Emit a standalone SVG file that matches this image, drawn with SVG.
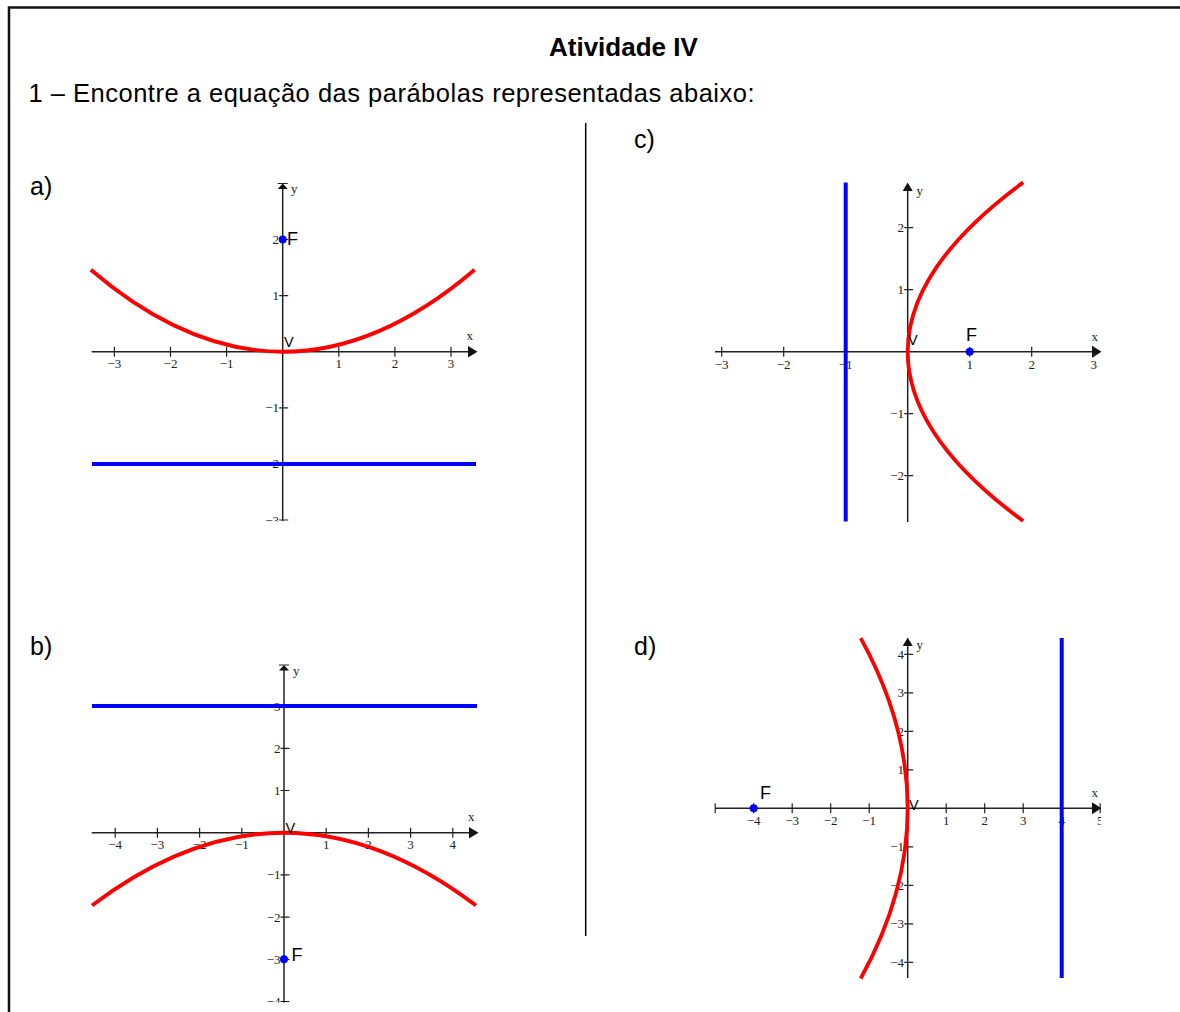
<svg xmlns="http://www.w3.org/2000/svg" width="1180" height="1012" viewBox="0 0 1180 1012">
<style>
.ax{stroke:#222;stroke-width:1.5;fill:none}
.tk{stroke:#222;stroke-width:1.2;fill:none}
.arr{fill:#111;stroke:none}
.par{stroke:#ff0000;stroke-width:3.8;fill:none}
.dir{stroke:#0000ff;stroke-width:4;fill:none}
.num{font-family:"Liberation Serif","Times New Roman",serif;font-size:13px;fill:#222}
.nx{text-anchor:middle}
.ny{text-anchor:end}
.lab{font-family:"Liberation Sans",Arial,sans-serif;fill:#000}
.F{font-size:18px}
.V{font-size:14.5px}
.dot{fill:#0000ff}
</style>
<defs>
<clipPath id="ca"><rect x="80" y="170" width="420" height="351.5"/></clipPath>
<clipPath id="cb"><rect x="80" y="650" width="420" height="352.5"/></clipPath>
<clipPath id="cd"><rect x="700" y="625" width="401" height="370"/></clipPath>
</defs>
<rect x="0" y="0" width="1180" height="1012" fill="#fff"/>
<g id="frame">
<path d="M9,1013 V7.5 H1181" fill="none" stroke="#111" stroke-width="2.5"/>
<path d="M585.7,123 V936" fill="none" stroke="#000" stroke-width="1.5"/>
</g>
<g id="texts" class="lab">
<text id="title" x="549" y="56" font-size="26" font-weight="bold">Atividade IV</text>
<text id="q1" x="28.5" y="102" font-size="25.5" textLength="726" lengthAdjust="spacing">1 – Encontre a equação das parábolas representadas abaixo:</text>
<text x="30" y="195" font-size="25">a)</text>
<text x="30" y="655" font-size="25">b)</text>
<text x="634" y="148" font-size="25">c)</text>
<text x="634" y="655" font-size="25">d)</text>
</g>

<g id="graph-a" clip-path="url(#ca)">
<path class="ax" d="M91.7,351.7 H470 M282.7,521 V186"/>
<polygon class="arr" points="468,346 477.5,351.7 468,357.5"/>
<polygon class="arr" points="277.7,189 287.7,189 282.7,183.5"/>
<path class="tk" d="M277.7,183.5 h10"/>
<path class="tk" d="M114.4,346.7v10 M170.5,346.7v10 M226.6,346.7v10 M338.8,346.7v10 M394.9,346.7v10 M451,346.7v10 M279.2,239.5h9 M279.2,295.6h9 M279.2,407.8h9 M279.2,463.9h9 M279.2,520h9"/>
<g class="num nx">
<text x="114.4" y="368">−3</text><text x="170.5" y="368">−2</text><text x="226.6" y="368">−1</text>
<text x="338.8" y="368">1</text><text x="394.9" y="368">2</text><text x="451" y="368">3</text>
</g>
<g class="num ny">
<text x="279" y="244">2</text><text x="279" y="300.1">1</text><text x="279" y="412.3">−1</text><text x="279" y="468.4">−2</text><text x="279" y="524.5">−3</text>
</g>
<text class="num" x="466.5" y="340">x</text>
<text class="num" x="291" y="193">y</text>
<path class="dir" d="M92,463.9 H476"/>
<path class="par" d="M90.8,269.7 Q282.7,433.7 474.6,269.7"/>
<circle class="dot" cx="282.7" cy="239.5" r="4"/>
<text class="lab F" x="287" y="245">F</text>
<text class="lab V" x="284" y="346.7">V</text>
</g>

<g id="graph-b" clip-path="url(#cb)">
<path class="ax" d="M91.7,832.7 H470 M284,1003 V668"/>
<polygon class="arr" points="469,827 478.5,832.7 469,838.5"/>
<polygon class="arr" points="279,670.5 289,670.5 284,665"/>
<path class="tk" d="M279,665 h10"/>
<path class="tk" d="M115.2,827.7v10 M157.4,827.7v10 M199.6,827.7v10 M241.8,827.7v10 M326.2,827.7v10 M368.4,827.7v10 M410.6,827.7v10 M452.8,827.7v10 M280.5,706.1h9 M280.5,748.3h9 M280.5,790.5h9 M280.5,874.9h9 M280.5,917.1h9 M280.5,959.3h9 M280.5,1001.5h9"/>
<g class="num nx">
<text x="115.2" y="848.5">−4</text><text x="157.4" y="848.5">−3</text><text x="199.6" y="848.5">−2</text><text x="241.8" y="848.5">−1</text>
<text x="326.2" y="848.5">1</text><text x="368.4" y="848.5">2</text><text x="410.6" y="848.5">3</text><text x="452.8" y="848.5">4</text>
</g>
<g class="num ny">
<text x="280.5" y="710.6">3</text><text x="280.5" y="752.8">2</text><text x="280.5" y="795">1</text><text x="280.5" y="879.4">−1</text><text x="280.5" y="921.6">−2</text><text x="280.5" y="963.8">−3</text><text x="280.5" y="1006">−4</text>
</g>
<text class="num" x="468" y="821">x</text>
<text class="num" x="293" y="675">y</text>
<path class="dir" d="M92,706.1 H477"/>
<path class="par" d="M92,905.5 Q284,759.9 476,905.5"/>
<circle class="dot" cx="284" cy="959.3" r="4"/>
<text class="lab F" x="291.5" y="961">F</text>
<text class="lab V" x="285.5" y="832.5">V</text>
</g>

<g id="graph-c">
<path class="ax" d="M715,351.7 H1092 M907.7,522 V188"/>
<polygon class="arr" points="1092,345.7 1101.5,351.7 1092,357.7"/>
<polygon class="arr" points="902.7,191 912.7,191 907.7,182.5"/>
<path class="tk" d="M721.7,346.7v10 M783.7,346.7v10 M845.7,346.7v10 M969.7,346.7v10 M1031.7,346.7v10 M1093.7,346.7v10 M904.2,227.7h9 M904.2,289.7h9 M904.2,413.7h9 M904.2,475.7h9"/>
<g class="num nx">
<text x="721.7" y="369">−3</text><text x="783.7" y="369">−2</text><text x="845.7" y="369">−1</text>
<text x="969.7" y="369">1</text><text x="1031.7" y="369">2</text><text x="1093.7" y="369">3</text>
</g>
<g class="num ny">
<text x="904" y="232.2">2</text><text x="904" y="294.2">1</text><text x="904" y="418.2">−1</text><text x="904" y="480.2">−2</text>
</g>
<text class="num" x="1091.5" y="340.5">x</text>
<text class="num" x="916.5" y="195">y</text>
<path class="dir" d="M845.7,182.5 V521.5"/>
<path class="par" d="M1023.2,182.4 Q792.2,351.7 1023.2,521"/>
<circle class="dot" cx="969.7" cy="351.7" r="4"/>
<text class="lab F" x="966" y="340.7">F</text>
<text class="lab V" x="908" y="345">V</text>
</g>

<g id="graph-d" clip-path="url(#cd)">
<path class="ax" d="M715.2,808.3 H1093 M907.7,978 V644"/>
<polygon class="arr" points="1092,802.3 1101.5,808.3 1092,814.3"/>
<polygon class="arr" points="902.7,646 912.7,646 907.7,637.5"/>
<path class="tk" d="M715.2,803.3v10 M753.7,803.3v10 M792.2,803.3v10 M830.7,803.3v10 M869.2,803.3v10 M946.2,803.3v10 M984.7,803.3v10 M1023.2,803.3v10 M1061.7,803.3v10 M1100.2,803.3v10 M904.2,654.3h9 M904.2,692.8h9 M904.2,731.3h9 M904.2,769.8h9 M904.2,846.8h9 M904.2,885.3h9 M904.2,923.8h9 M904.2,962.3h9"/>
<g class="num nx">
<text x="753.7" y="825">−4</text><text x="792.2" y="825">−3</text><text x="830.7" y="825">−2</text><text x="869.2" y="825">−1</text>
<text x="946.2" y="825">1</text><text x="984.7" y="825">2</text><text x="1023.2" y="825">3</text><text x="1061.7" y="825">4</text><text x="1100.2" y="825">5</text>
</g>
<g class="num ny">
<text x="904" y="658.8">4</text><text x="904" y="697.3">3</text><text x="904" y="735.8">2</text><text x="904" y="774.3">1</text><text x="904" y="851.3">−1</text><text x="904" y="889.8">−2</text><text x="904" y="928.3">−3</text><text x="904" y="966.8">−4</text>
</g>
<text class="num" x="1091.5" y="797">x</text>
<text class="num" x="916.5" y="649">y</text>
<path class="dir" d="M1061.7,638 V978"/>
<path class="par" d="M860.7,638.1 Q954.7,808.3 860.7,978.5"/>
<circle class="dot" cx="753.7" cy="808.3" r="4"/>
<text class="lab F" x="760" y="799.3">F</text>
<text class="lab V" x="909" y="810">V</text>
</g>
</svg>
